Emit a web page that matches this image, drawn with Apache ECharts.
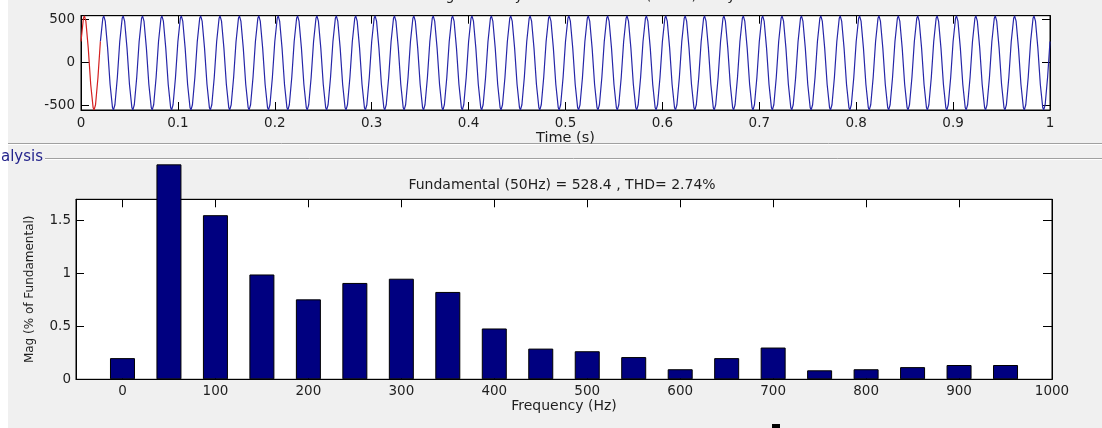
<!DOCTYPE html>
<html>
<head>
<meta charset="utf-8">
<script src="https://cdn.jsdelivr.net/npm/echarts@6/dist/echarts.min.js"></script>
<style>
  html, body { margin: 0; padding: 0; background: #f0f0f0; }
  #fft-chart { width: 1102px; height: 428px; }
</style>
</head>
<body>
<div id="fft-chart"></div>
<script>
// one cycle of the 50 Hz signal (time offset in s, value)
const cycleOffsets = [0, 0.0025, 0.0035, 0.005, 0.0075, 0.01, 0.0125, 0.0135, 0.015, 0.0175]
const cycleValues = [240, 511, 538, 478, 161, -256, -527, -554, -494, -177]
const cyclePeriod = 0.02
const cycleCount = 50
const fftWindowCycles = 1 // drawn in red
const endValue = 240

// harmonic spectrum (bottom plot)
const freqs = [0, 50, 100, 150, 200, 250, 300, 350, 400, 450, 500, 550, 600, 650, 700, 750, 800, 850, 900, 950]
const mags = [0.20, 2.03, 1.55, 0.99, 0.755, 0.91, 0.95, 0.825, 0.48, 0.29, 0.265, 0.21, 0.095, 0.20, 0.30, 0.085, 0.095, 0.115, 0.135, 0.135]

// tick labels
const waveTicks = [-500, 0, 500]
const freqTicks = [0, 100, 200, 300, 400, 500, 600, 700, 800, 900, 1000]
const magTicks = [0, 0.5, 1, 1.5]

const FONT = '"DejaVu Sans", sans-serif'
const TXT = '#1e1e1e'

const redData = []
const blueData = []
for (let c = 0; c < cycleCount; c++) {
  cycleOffsets.forEach((o, i) => {
    const pt = [+(c * cyclePeriod + o).toFixed(4), cycleValues[i]]
    if (c < fftWindowCycles) redData.push(pt)
    else blueData.push(pt)
  })
}
redData.push([fftWindowCycles * cyclePeriod, cycleValues[0]])
blueData.push([cycleCount * cyclePeriod, endValue])

const barData = freqs.map((f, i) => [f, mags[i]])

const plain = v => String(v)

function tickAxis(extra) {
  return Object.assign({
    type: 'value',
    splitLine: { show: false },
    axisLine: { show: true, onZero: false, lineStyle: { color: '#000', width: 1 } },
    axisTick: { show: true, inside: true, length: 8, lineStyle: { color: '#000' } },
    axisLabel: { color: TXT, fontFamily: FONT, fontSize: 13.5, formatter: plain }
  }, extra)
}

const iChart = echarts.init(document.getElementById('fft-chart'))
const chartOption = {
  backgroundColor: '#f0f0f0',
  animation: false,
  grid: [
    { left: 81, right: 52, top: 15.7, height: 94.3, show: true, backgroundColor: '#fff', borderColor: '#000', borderWidth: 1 },
    { left: 76, right: 50, top: 199.3, height: 180, show: true, backgroundColor: '#fff', borderColor: '#000', borderWidth: 1 }
  ],
  xAxis: [
    tickAxis({
      gridIndex: 0, min: 0, max: 1, interval: 0.1, position: 'bottom',
      axisLabel: { color: TXT, fontFamily: FONT, fontSize: 13.5, margin: 6, formatter: plain },
      name: 'Time (s)', nameLocation: 'middle', nameGap: 21,
      nameTextStyle: { color: TXT, fontFamily: FONT, fontSize: 14.5 }
    }),
    tickAxis({
      gridIndex: 0, min: 0, max: 1, interval: 0.1, position: 'top',
      axisLabel: { show: false }
    }),
    tickAxis({
      gridIndex: 1, min: -50, max: 1000, position: 'bottom',
      axisLabel: { color: TXT, fontFamily: FONT, fontSize: 13.5, margin: 5, customValues: freqTicks, formatter: plain },
      axisTick: { show: true, inside: true, length: 8, lineStyle: { color: '#000' }, customValues: freqTicks },
      name: 'Frequency (Hz)', nameLocation: 'middle', nameGap: 20,
      nameTextStyle: { color: TXT, fontFamily: FONT, fontSize: 14 }
    }),
    tickAxis({
      gridIndex: 1, min: -50, max: 1000, position: 'top',
      axisLabel: { show: false, customValues: freqTicks },
      axisTick: { show: true, inside: true, length: 8, lineStyle: { color: '#000' }, customValues: freqTicks }
    })
  ],
  yAxis: [
    tickAxis({
      gridIndex: 0, min: -555, max: 540, position: 'left',
      axisLabel: { color: TXT, fontFamily: FONT, fontSize: 13.5, margin: 6, customValues: waveTicks, formatter: plain },
      axisTick: { show: true, inside: true, length: 8, lineStyle: { color: '#000' }, customValues: waveTicks }
    }),
    tickAxis({
      gridIndex: 0, min: -555, max: 540, position: 'right',
      axisLabel: { show: false, customValues: waveTicks },
      axisTick: { show: true, inside: true, length: 8, lineStyle: { color: '#000' }, customValues: waveTicks }
    }),
    tickAxis({
      gridIndex: 1, min: 0, max: 1.7, position: 'left',
      axisLabel: { color: TXT, fontFamily: FONT, fontSize: 13.5, margin: 5, customValues: magTicks, formatter: plain },
      axisTick: { show: true, inside: true, length: 8, lineStyle: { color: '#000' }, customValues: magTicks },
      name: 'Mag (% of Fundamental)', nameLocation: 'middle', nameGap: 40,
      nameTextStyle: { color: TXT, fontFamily: FONT, fontSize: 12 }
    }),
    tickAxis({
      gridIndex: 1, min: 0, max: 1.7, position: 'right',
      axisLabel: { show: false, customValues: magTicks },
      axisTick: { show: true, inside: true, length: 9, lineStyle: { color: '#000' }, customValues: magTicks }
    })
  ],
  graphic: [
    { type: 'rect', shape: { x: 0, y: 0, width: 8, height: 428 }, style: { fill: '#fff' } },
    { type: 'line', shape: { x1: 8, y1: 143.5, x2: 1102, y2: 143.5 }, style: { stroke: '#a0a0a0', lineWidth: 1 } },
    { type: 'line', shape: { x1: 8, y1: 144.5, x2: 1102, y2: 144.5 }, style: { stroke: '#ffffff', lineWidth: 1 } },
    { type: 'line', shape: { x1: 45, y1: 158.5, x2: 1102, y2: 158.5 }, style: { stroke: '#a0a0a0', lineWidth: 1 } },
    { type: 'line', shape: { x1: 45, y1: 159.5, x2: 1102, y2: 159.5 }, style: { stroke: '#ffffff', lineWidth: 1 } },
    {
      type: 'text', x: 43, y: 157,
      style: { text: 'FFT Analysis', fill: '#24248c', font: '15px ' + FONT, textAlign: 'right', textVerticalAlign: 'middle' }
    },
    {
      type: 'text', x: 566, y: -4,
      style: { text: 'Selected signal: 50 cycles. FFT window (in red): 1 cycles', fill: TXT, font: '14px ' + FONT, textAlign: 'center', textVerticalAlign: 'middle' }
    },
    {
      type: 'text', x: 562, y: 185,
      style: { text: 'Fundamental (50Hz) = 528.4 , THD= 2.74%', fill: TXT, font: '14px ' + FONT, textAlign: 'center', textVerticalAlign: 'middle' }
    },
    { type: 'rect', shape: { x: 772, y: 424, width: 8, height: 4 }, style: { fill: '#000' } }
  ],
  series: [
    {
      name: 'signal',
      type: 'line',
      xAxisIndex: 0,
      yAxisIndex: 0,
      showSymbol: false,
      symbol: 'none',
      lineStyle: { width: 1.2, color: '#2626a8' },
      data: blueData
    },
    {
      name: 'FFT window',
      type: 'line',
      xAxisIndex: 0,
      yAxisIndex: 0,
      showSymbol: false,
      symbol: 'none',
      lineStyle: { width: 1.2, color: '#d42020' },
      data: redData
    },
    {
      name: 'harmonics',
      type: 'bar',
      xAxisIndex: 2,
      yAxisIndex: 2,
      barWidth: 25,
      clip: false,
      itemStyle: { color: '#000080', borderColor: '#000', borderWidth: 1 },
      data: barData
    }
  ]
}
iChart.setOption(chartOption)
</script>
</body>
</html>
